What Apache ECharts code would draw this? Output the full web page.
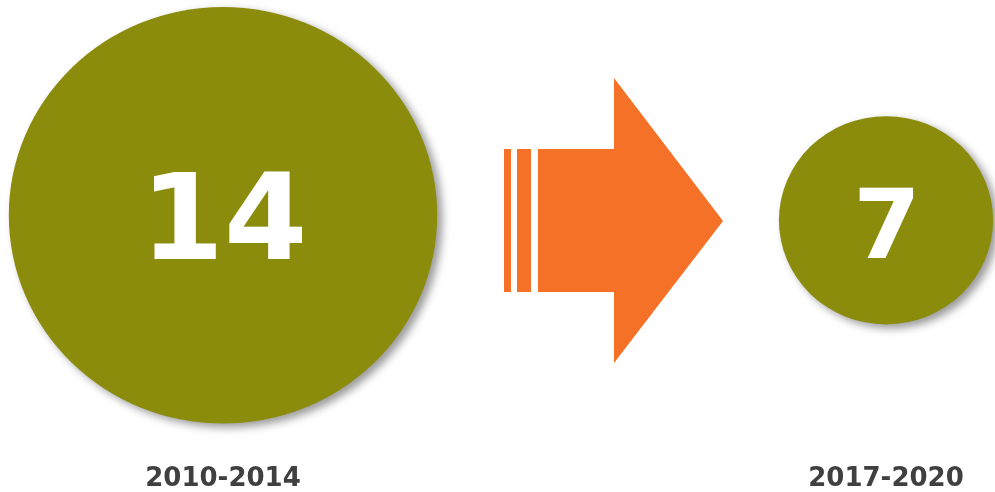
<!DOCTYPE html>
<html>
<head>
<meta charset="utf-8">
<script src="https://cdn.jsdelivr.net/npm/echarts@6/dist/echarts.min.js"></script>
<style>
html,body{margin:0;padding:0;background:#fff;}
#chart{width:995px;height:492px;}
</style>
</head>
<body>
<div id="chart"></div>
<script>
const categories = ['2010-2014', '2017-2020'];
const values = [14, 7];

const chart = echarts.init(document.getElementById('chart'));
const olive = '#8B8C0C';
const orange = '#F57127';
const labelSizes = [120, 97];
const offsets = [[0, -2.5], [0, 2.5]];
const labelOffsets = [[1, 12.5], [1, 13]];

const option = {
  animation: false,
  grid: { left: 223, right: 109, top: 0, bottom: 54 },
  xAxis: {
    type: 'category',
    data: categories,
    boundaryGap: false,
    axisLine: { show: false },
    axisTick: { show: false },
    splitLine: { show: false },
    axisLabel: {
      margin: 30.5,
      fontFamily: 'DejaVu Sans',
      fontWeight: 'bold',
      fontSize: 26,
      lineHeight: 26,
      color: '#404040',
      showMinLabel: true,
      showMaxLabel: true
    }
  },
  yAxis: { type: 'value', min: -1, max: 1, show: false },
  graphic: [
    { type: 'rect', shape: { x: 504, y: 149, width: 7, height: 143 }, style: { fill: orange } },
    { type: 'rect', shape: { x: 517, y: 149, width: 14, height: 143 }, style: { fill: orange } },
    { type: 'polygon', shape: { points: [[538,149],[614,149],[614,78],[723,221],[614,363],[614,292],[538,292]] }, style: { fill: orange } }
  ],
  series: [{
    type: 'scatter',
    data: categories.map((c, i) => ({
      value: [c, 0, values[i]],
      symbolOffset: offsets[i],
      label: { fontSize: labelSizes[i], offset: labelOffsets[i] }
    })),
    symbol: 'circle',
    symbolSize: v => [v[2] * 30.6, v[2] * 29.75],
    itemStyle: {
      color: olive,
      opacity: 1,
      shadowBlur: 8,
      shadowColor: 'rgba(0,0,0,0.4)',
      shadowOffsetX: 5,
      shadowOffsetY: 4
    },
    label: {
      show: true,
      position: 'inside',
      formatter: p => String(p.value[2]),
      color: '#ffffff',
      fontFamily: 'DejaVu Sans',
      fontWeight: 'bold'
    },
    emphasis: { disabled: true }
  }]
};
chart.setOption(option);
</script>
</body>
</html>
